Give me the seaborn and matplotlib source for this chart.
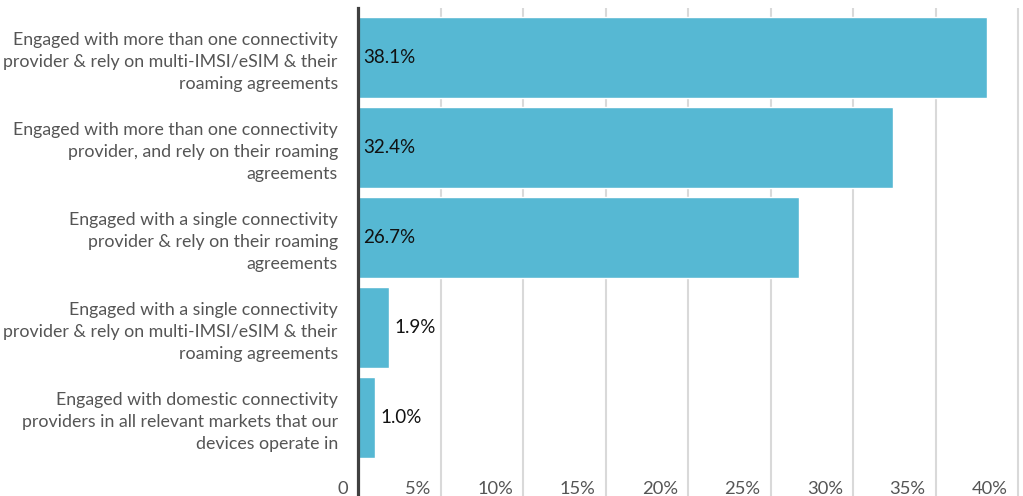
import matplotlib
matplotlib.use("Agg")
import matplotlib.pyplot as plt
from matplotlib.transforms import ScaledTranslation
import seaborn as sns
import pandas as pd

categories = [
    "Engaged with more than one connectivity\nprovider & rely on multi-IMSI/eSIM & their\nroaming agreements",
    "Engaged with more than one connectivity\nprovider, and rely on their roaming\nagreements",
    "Engaged with a single connectivity\nprovider & rely on their roaming\nagreements",
    "Engaged with a single connectivity\nprovider & rely on multi-IMSI/eSIM & their\nroaming agreements",
    "Engaged with domestic connectivity\nproviders in all relevant markets that our\ndevices operate in",
]
values = [38.1, 32.4, 26.7, 1.9, 1.0]
tick_values = [0, 5, 10, 15, 20, 25, 30, 35, 40]
tick_labels = ["0", "5%", "10%", "15%", "20%", "25%", "30%", "35%", "40%"]

df = pd.DataFrame({"category": categories, "value": values})

sns.set_theme(style="white")
plt.rcParams["font.family"] = ["Lato", "DejaVu Sans"]

W, H, DPI = 1023, 496, 100
fig = plt.figure(figsize=(W / DPI, H / DPI), dpi=DPI)
ax = fig.add_axes([358 / W, 0, 1 - 358 / W, 1 - 8 / H])

sns.barplot(data=df, x="value", y="category", orient="h", color="#56B8D3",
            saturation=1, width=0.9, ax=ax, zorder=3)

ax.set_xlim(0, 40.3)
ax.set_ylim(4.87, -0.55)
ax.set_xlabel("")
ax.set_ylabel("")

# vertical gridlines
ax.set_xticks(tick_values)
ax.xaxis.grid(True, color="#d9d9d9", linewidth=1.5, zorder=0)
ax.set_axisbelow(True)

for s in ["top", "right", "bottom"]:
    ax.spines[s].set_visible(False)
ax.spines["left"].set_color("#404040")
ax.spines["left"].set_linewidth(2.3)
ax.spines["left"].set_zorder(5)

# category labels
ax.tick_params(axis="y", length=0, pad=14.5, labelsize=12.8, labelcolor="#555555")
for lab in ax.get_yticklabels():
    lab.set_horizontalalignment("right")
    lab.set_linespacing(1.45)

# percentage ticks drawn inside the plot, right-aligned left of each gridline
ax.set_xticklabels(tick_labels)
ax.tick_params(axis="x", length=0, pad=-1.5, labelsize=13.2, labelcolor="#555555")
offset = ScaledTranslation(-10 / DPI, 0, fig.dpi_scale_trans)
for lab in ax.get_xticklabels():
    lab.set_horizontalalignment("right")
    lab.set_verticalalignment("baseline")
    lab.set_transform(lab.get_transform() + offset)

# value labels
for i, v in enumerate(values):
    label = f"{v:.1f}%"
    anchor = 0 if v > 10 else v
    ax.annotate(label, xy=(anchor, i), xytext=(4, 0), textcoords="offset points",
                ha="left", va="center", fontsize=13.5, color="#111111", zorder=6)

fig.savefig("out.png", dpi=DPI)
